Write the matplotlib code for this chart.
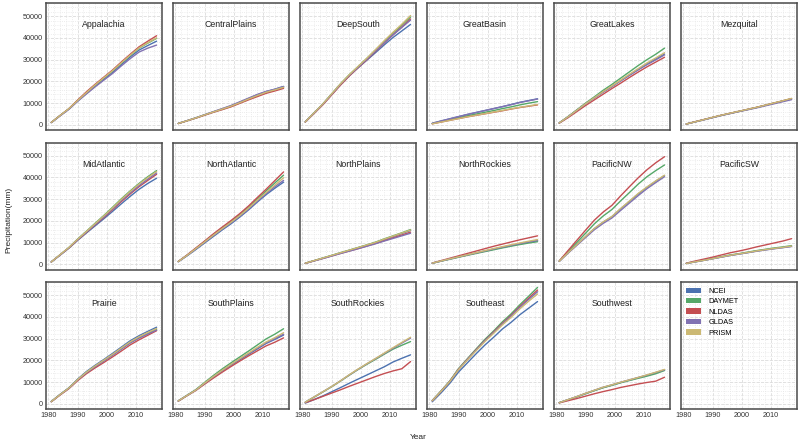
import matplotlib
matplotlib.use("Agg")
import matplotlib.pyplot as plt
from matplotlib.patches import Patch
from matplotlib.ticker import AutoMinorLocator, MultipleLocator

plt.rcParams['font.family'] = ['Liberation Sans', 'DejaVu Sans']

# ---------------- data ----------------
years = [1981, 1984, 1987, 1990, 1993, 1996, 1999, 2002, 2005, 2008, 2011, 2014, 2017]
datasets = ["NCEI", "DAYMET", "NLDAS", "GLDAS", "PRISM"]
colors = ["#4C72B0", "#55A868", "#C44E52", "#8172B2", "#CCB974"]
xticks = [1980, 1990, 2000, 2010]
yticks = [0, 10000, 20000, 30000, 40000, 50000]

appalachia = dict(
    NCEI=[1100, 4300, 7300, 11000, 14500, 17900, 21100, 24200, 27800, 31300, 34400, 36500, 38500],
    DAYMET=[1100, 4300, 7400, 11200, 14800, 18300, 21600, 24900, 28500, 32000, 35300, 37600, 39800],
    NLDAS=[1100, 4300, 7400, 11400, 15200, 18700, 22000, 25300, 29000, 32500, 35900, 38500, 41000],
    GLDAS=[1000, 4100, 7100, 10800, 14200, 17500, 20600, 23700, 27200, 30500, 33500, 35300, 36700],
    PRISM=[1100, 4300, 7400, 11200, 14800, 18400, 21700, 25000, 28600, 32100, 35400, 37800, 40000])
centralplains = dict(
    NCEI=[650, 1900, 3200, 4600, 6000, 7300, 8700, 10400, 12100, 13800, 15300, 16400, 17700],
    DAYMET=[650, 1900, 3200, 4600, 5900, 7200, 8500, 10100, 11800, 13400, 14900, 16000, 17200],
    NLDAS=[600, 1850, 3100, 4450, 5800, 7000, 8300, 9900, 11500, 13000, 14500, 15600, 16800],
    GLDAS=[650, 1950, 3250, 4700, 6100, 7500, 8900, 10600, 12300, 14000, 15400, 16400, 17600],
    PRISM=[650, 1900, 3200, 4600, 5950, 7250, 8600, 10200, 11900, 13500, 15000, 16100, 17300])
deepsouth = dict(
    NCEI=[1400, 5400, 9500, 14000, 18500, 22600, 26200, 29700, 33200, 36800, 40200, 43200, 46200],
    DAYMET=[1400, 5500, 9600, 14200, 18800, 23000, 26700, 30500, 34400, 38400, 42200, 45800, 49600],
    NLDAS=[1300, 5200, 9200, 13700, 18200, 22400, 26200, 29900, 33800, 37700, 41400, 45000, 48700],
    GLDAS=[1400, 5400, 9500, 14000, 18600, 22700, 26400, 30100, 34000, 37800, 41400, 44800, 48200],
    PRISM=[1400, 5500, 9600, 14200, 18800, 23000, 26800, 30600, 34600, 38700, 42600, 46300, 50300])
greatbasin = dict(
    NCEI=[700, 1800, 2800, 3800, 4800, 5700, 6600, 7500, 8400, 9400, 10400, 11200, 12000],
    DAYMET=[600, 1500, 2400, 3300, 4200, 5000, 5800, 6600, 7500, 8300, 9200, 10000, 10700],
    NLDAS=[500, 1300, 2100, 2900, 3700, 4400, 5100, 5800, 6500, 7300, 8000, 8600, 9200],
    GLDAS=[700, 1800, 2800, 3800, 4800, 5700, 6600, 7500, 8400, 9300, 10300, 11100, 11900],
    PRISM=[500, 1300, 2100, 2900, 3700, 4450, 5150, 5900, 6650, 7400, 8100, 8750, 9400])
greatlakes = dict(
    NCEI=[900, 3700, 6700, 9700, 12400, 15100, 17600, 20300, 22900, 25500, 28000, 30300, 32600],
    DAYMET=[900, 3800, 6900, 10000, 12900, 15900, 18600, 21500, 24400, 27300, 30000, 32500, 35300],
    NLDAS=[800, 3300, 6100, 8900, 11500, 14100, 16700, 19200, 21800, 24300, 26700, 28900, 31100],
    GLDAS=[900, 3700, 6700, 9700, 12400, 15100, 17700, 20300, 22800, 25300, 27700, 29900, 32200],
    PRISM=[900, 3700, 6700, 9700, 12500, 15300, 17900, 20600, 23300, 25900, 28500, 30800, 33200])
mezquital = dict(
    NCEI=[400, 1400, 2400, 3400, 4400, 5300, 6200, 7100, 8000, 9000, 10000, 11000, 12000],
    DAYMET=[400, 1400, 2400, 3400, 4400, 5300, 6200, 7100, 8000, 9000, 10000, 11000, 12000],
    NLDAS=[400, 1450, 2450, 3450, 4450, 5350, 6250, 7150, 8050, 9050, 10050, 11050, 12100],
    GLDAS=[400, 1350, 2300, 3300, 4300, 5200, 6100, 6950, 7800, 8750, 9700, 10650, 11600],
    PRISM=[400, 1400, 2400, 3450, 4450, 5350, 6250, 7150, 8050, 9050, 10100, 11100, 12200])
midatlantic = dict(
    NCEI=[1100, 4200, 7400, 11000, 14400, 17700, 21000, 24400, 27900, 31300, 34500, 37200, 39600],
    DAYMET=[1100, 4400, 7700, 11600, 15200, 18900, 22500, 26300, 30200, 33800, 37200, 40300, 43100],
    NLDAS=[1100, 4300, 7500, 11200, 14700, 18200, 21600, 25200, 28900, 32400, 35700, 38600, 41400],
    GLDAS=[1100, 4300, 7600, 11400, 14900, 18400, 21900, 25600, 29400, 32900, 36200, 39200, 42000],
    PRISM=[1100, 4400, 7700, 11500, 15100, 18700, 22300, 26000, 29900, 33500, 36900, 39900, 42700])
northatlantic = dict(
    NCEI=[1200, 3900, 6800, 9800, 12800, 15800, 18600, 21700, 25000, 28600, 32000, 35000, 37800],
    DAYMET=[1300, 4200, 7300, 10500, 13700, 16700, 19600, 22800, 26200, 30000, 33700, 37400, 41000],
    NLDAS=[1300, 4300, 7500, 10700, 14000, 17100, 20100, 23300, 26800, 30700, 34500, 38500, 42500],
    GLDAS=[1200, 4000, 7000, 10100, 13200, 16200, 19000, 22100, 25400, 29000, 32500, 35700, 38600],
    PRISM=[1250, 4100, 7200, 10300, 13400, 16400, 19300, 22400, 25800, 29500, 33000, 36400, 39800])
northplains = dict(
    NCEI=[500, 1650, 2850, 4050, 5250, 6400, 7600, 8800, 10000, 11400, 12800, 14200, 15600],
    DAYMET=[500, 1700, 2900, 4100, 5300, 6500, 7700, 8900, 10200, 11700, 13100, 14500, 16000],
    NLDAS=[450, 1600, 2700, 3850, 5000, 6100, 7200, 8400, 9600, 10900, 12200, 13500, 14800],
    GLDAS=[450, 1550, 2650, 3800, 4950, 6050, 7150, 8300, 9450, 10700, 11900, 13100, 14300],
    PRISM=[500, 1700, 2900, 4100, 5300, 6500, 7700, 8900, 10100, 11600, 13000, 14400, 15800])
northrockies = dict(
    NCEI=[550, 1500, 2450, 3400, 4300, 5200, 6100, 6950, 7800, 8600, 9400, 10100, 10800],
    DAYMET=[500, 1450, 2350, 3250, 4150, 5000, 5850, 6700, 7550, 8350, 9100, 9800, 10400],
    NLDAS=[600, 1700, 2800, 3900, 5000, 6100, 7200, 8300, 9300, 10300, 11300, 12200, 13100],
    GLDAS=[550, 1500, 2450, 3400, 4350, 5250, 6150, 7050, 7900, 8750, 9550, 10300, 11000],
    PRISM=[550, 1550, 2500, 3450, 4400, 5350, 6300, 7250, 8150, 9000, 9850, 10650, 11400])
pacificnw = dict(
    NCEI=[1400, 5300, 9000, 12700, 16400, 19400, 21900, 25500, 28900, 32300, 35400, 38200, 40800],
    DAYMET=[1500, 5800, 10000, 14300, 18600, 22200, 25200, 29200, 33000, 36900, 40300, 43100, 45700],
    NLDAS=[1500, 6300, 11000, 15700, 20300, 24000, 27100, 31500, 35700, 39800, 43500, 46700, 49500],
    GLDAS=[1300, 5100, 8700, 12300, 15900, 18800, 21300, 24800, 28200, 31600, 34800, 37600, 40300],
    PRISM=[1400, 5300, 9000, 12800, 16500, 19500, 22000, 25700, 29100, 32600, 35600, 38400, 41000])
pacificsw = dict(
    NCEI=[400, 1150, 1850, 2600, 3350, 4100, 4750, 5400, 6100, 6700, 7250, 7750, 8300],
    DAYMET=[400, 1200, 1900, 2700, 3500, 4300, 4900, 5600, 6300, 6900, 7500, 8000, 8600],
    NLDAS=[500, 1500, 2400, 3300, 4300, 5300, 6100, 7000, 8000, 8900, 9800, 10700, 11800],
    GLDAS=[400, 1100, 1800, 2550, 3300, 4050, 4700, 5350, 6000, 6600, 7150, 7650, 8200],
    PRISM=[400, 1150, 1850, 2600, 3400, 4150, 4800, 5450, 6150, 6750, 7300, 7800, 8400])
prairie = dict(
    NCEI=[1000, 4300, 7300, 11300, 14800, 17700, 20400, 23200, 26100, 29000, 31300, 33300, 35200],
    DAYMET=[1000, 4200, 7200, 11000, 14400, 17200, 19800, 22500, 25300, 28100, 30400, 32400, 34200],
    NLDAS=[900, 4000, 6900, 10600, 13800, 16500, 19000, 21600, 24300, 27100, 29400, 31500, 33600],
    GLDAS=[1000, 4200, 7100, 11000, 14300, 17100, 19700, 22400, 25200, 28000, 30200, 32100, 33900],
    PRISM=[1000, 4200, 7200, 11100, 14500, 17400, 20100, 22800, 25700, 28500, 30800, 32800, 34600])
southplains = dict(
    NCEI=[1300, 3800, 6300, 9400, 12300, 15100, 17700, 20200, 22700, 25200, 27700, 29600, 31600],
    DAYMET=[1300, 3900, 6500, 9800, 13000, 16000, 18800, 21500, 24200, 27000, 29800, 32000, 34500],
    NLDAS=[1200, 3700, 6100, 9000, 11800, 14500, 17100, 19600, 22000, 24300, 26600, 28300, 30300],
    GLDAS=[1300, 3800, 6300, 9400, 12400, 15300, 18000, 20600, 23000, 25500, 28000, 29900, 32000],
    PRISM=[1300, 3800, 6300, 9500, 12500, 15400, 18100, 20700, 23300, 25900, 28400, 30400, 32700])
southrockies = dict(
    NCEI=[300, 1900, 3600, 5500, 7400, 9400, 11300, 13200, 15100, 17000, 19200, 20900, 22500],
    DAYMET=[700, 3000, 5400, 7800, 10400, 13100, 15700, 18100, 20400, 22800, 25100, 26900, 28600],
    NLDAS=[500, 1900, 3400, 4900, 6400, 8000, 9500, 11000, 12500, 13900, 15100, 16100, 19400],
    GLDAS=[700, 3100, 5500, 7900, 10500, 13200, 15800, 18300, 20700, 23100, 25500, 27900, 30200],
    PRISM=[700, 3100, 5500, 7900, 10500, 13300, 15900, 18400, 20800, 23300, 25800, 28200, 30600])
southeast = dict(
    NCEI=[900, 5000, 9400, 14600, 18800, 23000, 27000, 30600, 34400, 37500, 41000, 44000, 47000],
    DAYMET=[1500, 5900, 10500, 16200, 20700, 25200, 29600, 33500, 37700, 41400, 45600, 49500, 53500],
    NLDAS=[1400, 5700, 10300, 15900, 20400, 24800, 29100, 33000, 37000, 40700, 44800, 48600, 52300],
    GLDAS=[1400, 5700, 10200, 15800, 20300, 24700, 29000, 32800, 36700, 40400, 44400, 48000, 51500],
    PRISM=[1400, 5700, 10200, 15700, 20100, 24400, 28600, 32400, 36300, 39800, 43700, 47200, 50500])
southwest = dict(
    NCEI=[500, 1850, 3200, 4700, 6100, 7450, 8550, 9750, 10850, 11950, 13050, 14200, 15500],
    DAYMET=[500, 1800, 3150, 4600, 6000, 7350, 8450, 9650, 10700, 11700, 12700, 13800, 15300],
    NLDAS=[400, 1400, 2400, 3500, 4600, 5600, 6500, 7500, 8300, 9100, 9800, 10400, 12200],
    GLDAS=[500, 1900, 3300, 4800, 6200, 7600, 8700, 9900, 11000, 12100, 13200, 14400, 15600],
    PRISM=[500, 1900, 3300, 4800, 6200, 7600, 8700, 9900, 11000, 12100, 13300, 14500, 15800])

region_names = ["Appalachia", "CentralPlains", "DeepSouth", "GreatBasin", "GreatLakes",
                "Mezquital", "MidAtlantic", "NorthAtlantic", "NorthPlains", "NorthRockies",
                "PacificNW", "PacificSW", "Prairie", "SouthPlains", "SouthRockies",
                "Southeast", "Southwest"]
region_data = [appalachia, centralplains, deepsouth, greatbasin, greatlakes, mezquital,
               midatlantic, northatlantic, northplains, northrockies, pacificnw, pacificsw,
               prairie, southplains, southrockies, southeast, southwest]

# ---------------- figure ----------------
fig, axes = plt.subplots(3, 6, figsize=(8.0, 4.46), dpi=100, sharex=True, sharey=True)
fig.subplots_adjust(left=0.0575, right=0.996, top=0.993, bottom=0.083,
                    wspace=0.096, hspace=0.098)

for i, ax in enumerate(axes.flat):
    ax.set_facecolor("white")
    for s in ax.spines.values():
        s.set_color("#4a4a4a")
        s.set_linewidth(1.1)
    ax.xaxis.set_minor_locator(AutoMinorLocator(5))
    ax.yaxis.set_minor_locator(AutoMinorLocator(5))
    ax.grid(True, which="major", color="#dcdcdc", linestyle="--", linewidth=0.6)
    ax.grid(True, which="minor", color="#e6e6e6", linestyle=":", linewidth=0.6)
    ax.set_axisbelow(True)
    ax.tick_params(which="both", length=0, labelsize=5.2, colors="#333333", pad=2.5)
    if i < len(region_names):
        d = region_data[i]
        for name, c in zip(datasets, colors):
            ax.plot(years, d[name], color=c, linewidth=1.0, solid_capstyle="round")
        ax.text(0.5, 0.83, region_names[i], transform=ax.transAxes, ha="center",
                va="center", fontsize=6.3, color="#222222")

ax0 = axes[0, 0]
ax0.set_xticks(xticks)
ax0.set_yticks(yticks)
ax0.set_xlim(1979.2, 2018.8)
ax0.set_ylim(-2400, 56000)

leg_ax = axes[2, 5]
handles = [Patch(facecolor=c, edgecolor="none", label=n) for n, c in zip(datasets, colors)]
leg_ax.legend(handles=handles, loc="upper left", frameon=False, fontsize=5.3,
              handlelength=2.0, handleheight=0.7, labelspacing=0.45,
              borderaxespad=0.35, handletextpad=1.0)

fig.text(0.5225, 0.02, "Year", ha="center", va="center", fontsize=6, color="#222222")
fig.text(0.011, 0.507, "Precipitation(mm)", ha="center", va="center", rotation=90,
         fontsize=6, color="#222222")

fig.savefig("out.png", dpi=100)
